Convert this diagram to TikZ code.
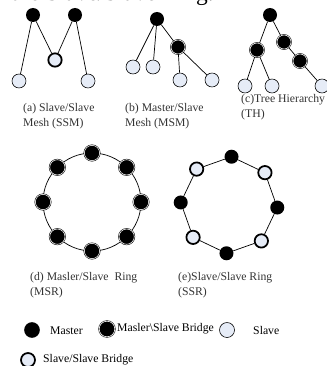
\documentclass[tikz,border=0pt]{standalone}
\usepackage{fontspec}
\setmainfont{Liberation Serif}
\usepackage{xcolor}
\usepackage{tikz}
\definecolor{slavefill}{HTML}{E6ECF7}

\begin{document}
\begin{tikzpicture}[x=0.03cm, y=-0.03cm, font=\fontsize{10}{12.5}\selectfont]
\tikzstyle{master}=[circle, fill=black, inner sep=0pt, minimum size=0.42cm]
\tikzstyle{slave}=[circle, draw, fill=slavefill, line width=0.5pt, inner sep=0pt, minimum size=0.42cm]
\tikzstyle{ssbridge}=[circle, draw, fill=slavefill, line width=1.5pt, inner sep=0pt, minimum size=0.40cm]
\tikzstyle{msbridge}=[circle, draw, fill=black, double=white, double distance=0.5pt, line width=0.45pt, inner sep=0pt, minimum size=0.42cm]
\tikzstyle{link}=[line width=0.6pt]
\tikzstyle{caption}=[anchor=west, align=left, text=black!80, inner sep=0pt]
\useasboundingbox (0,0) rectangle (326,366);

\node[anchor=base east, font=\fontsize{20}{20}\selectfont, inner sep=0pt] (title) at (214,0.5) {the Slave/Slave Ring.};

% (a) slave/slave mesh
\node[master] (am1) at (33,15) {};
\node[master] (am2) at (75,15) {};
\node[ssbridge] (ab) at (55,60) {};
\node[slave] (as1) at (19,81) {};
\node[slave] (as2) at (88,81) {};
\draw[link] (am1) -- (as1);
\draw[link] (am1) -- (ab);
\draw[link] (am2) -- (ab);
\draw[link] (am2) -- (as2);
\node[caption] (alabel) at (23,116) {(a) Slave/Slave\\Mesh (SSM)};

% (b) master/slave mesh
\node[master] (bm) at (157,19) {};
\node[msbridge] (bb) at (178,47) {};
\node[slave] (bs1) at (133,67) {};
\node[slave] (bs2) at (153,67) {};
\node[slave] (bs3) at (180,80) {};
\node[slave] (bs4) at (212,80) {};
\draw[link] (bm) -- (bs1);
\draw[link] (bm) -- (bs2);
\draw[link] (bm) -- (bb);
\draw[link] (bb) -- (bs3);
\draw[link] (bb) -- (bs4);
\node[caption] (blabel) at (125,116) {(b) Master/Slave\\Mesh (MSM)};

% (c) tree hierarchy
\node[master] (cm) at (270,15) {};
\node[msbridge] (cb1) at (257,50) {};
\node[msbridge] (cb2) at (284,42) {};
\node[msbridge] (cb3) at (300,61) {};
\node[slave] (cs1) at (245,86) {};
\node[slave] (cs2) at (272,86) {};
\node[slave] (cs3) at (322,86) {};
\draw[link] (cm) -- (cb1);
\draw[link] (cm) -- (cb2);
\draw[link] (cb1) -- (cs1);
\draw[link] (cb1) -- (cs2);
\draw[link] (cb2) -- (cb3);
\draw[link] (cb3) -- (cs3);
\node[caption] (clabel) at (241,107.5) {(c)Tree Hierarchy\\(TH)};

% (d) master/slave ring
\coordinate (dc) at (92,202);
\draw[link] (dc) circle (1.47cm);
\foreach \i in {1,...,8}
  \node[msbridge, minimum size=0.46cm] (d\i) at ([shift={(90-45*\i+45:1.47cm)}]dc) {};
\node[caption] (dlabel) at (30,285.5) {(d) Masler/Slave\ \ Ring\\(MSR)};

% (e) slave/slave ring
\coordinate (ec) at (229,205);
\foreach \i/\kind in {1/master,2/ssbridge,3/master,4/ssbridge,5/master,6/ssbridge,7/master,8/ssbridge}
  \node[\kind] (e\i) at ([shift={(87-45*\i+45:1.45cm)}]ec) {};
\draw[link] (e1) -- (e2) -- (e3) -- (e4) -- (e5) -- (e6) -- (e7) -- (e8) -- (e1);
\node[caption] (elabel) at (178,285.5) {(e)Slave/Slave Ring\\(SSR)};

% legend
\node[master, minimum size=0.47cm] (kmaster) at (32,330) {};
\node[anchor=west, inner sep=0pt] (tmaster) at (50,331) {Master};
\node[msbridge, minimum size=0.47cm] (kbridge) at (107,329) {};
\node[anchor=west, inner sep=0pt] (tbridge) at (117,329) {Masler\textbackslash Slave Bridge};
\node[slave, minimum size=0.45cm] (kslave) at (227,330) {};
\node[anchor=west, inner sep=0pt] (tslave) at (253,330) {Slave};
\node[ssbridge, minimum size=0.42cm] (kss) at (28,360) {};
\node[anchor=west, inner sep=0pt] (tss) at (43,360) {Slave/Slave Bridge};
\end{tikzpicture}
\end{document}
